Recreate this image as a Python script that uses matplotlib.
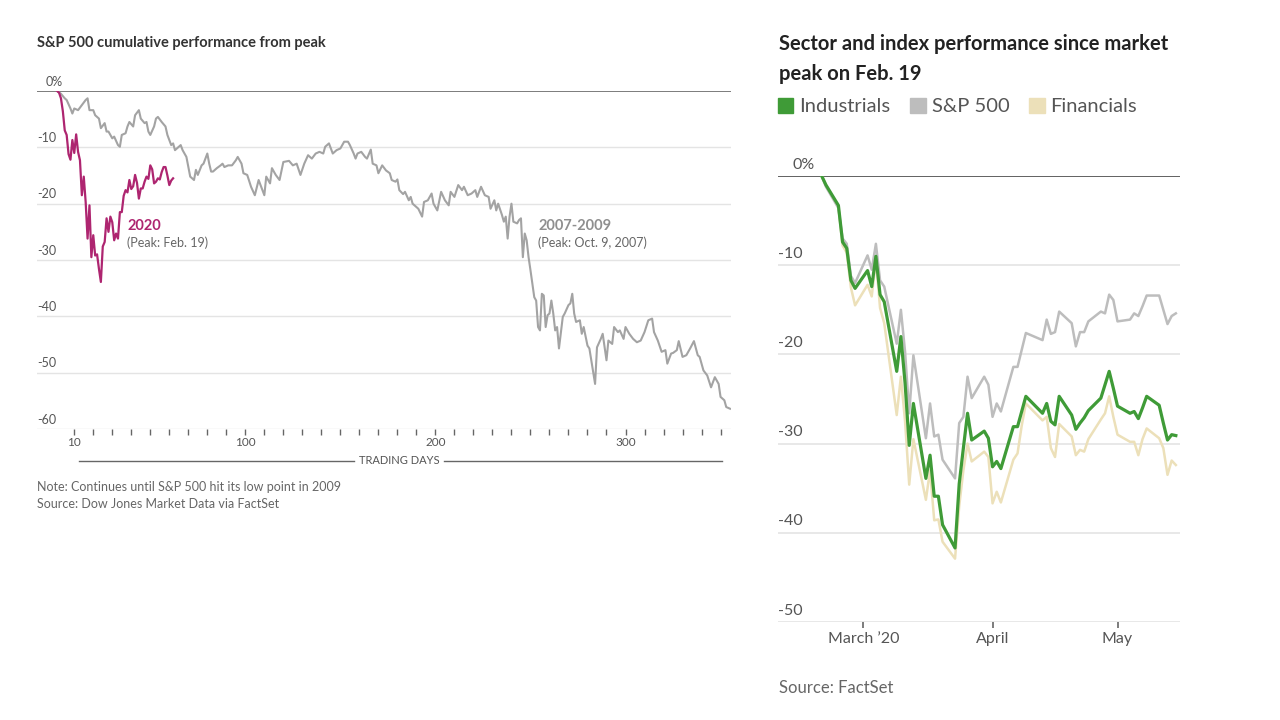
import matplotlib
matplotlib.use("Agg")
import matplotlib.pyplot as plt
import matplotlib.dates as mdates
from matplotlib.patches import Patch
from matplotlib.lines import Line2D
import pandas as pd

plt.rcParams["font.family"] = ["Lato", "DejaVu Sans"]

# ---- left chart: S&P 500 cumulative performance from peak (trading days) ----
sp2020_days = list(range(1, 63))
sp2020_pct = [0, -0.3, -1.3, -3.6, -7.0, -7.8, -11.2, -12.2, -8.7, -11.0,
              -7.7, -10.8, -12.3, -18.5, -15.2, -19.7, -26.2, -20.3, -29.5, -25.6,
              -29.2, -29.0, -31.6, -33.9, -27.6, -26.8, -22.6, -25.0, -22.3, -23.3,
              -26.5, -25.3, -26.2, -21.5, -21.5, -18.6, -17.6, -18.0, -15.8, -17.4,
              -16.9, -14.9, -16.3, -19.1, -17.3, -17.3, -16.1, -15.2, -15.6, -13.2,
              -13.9, -16.4, -16.1, -15.5, -15.7, -14.4, -13.5, -13.5, -15.0, -16.7,
              -15.9, -15.5]

sp2007_days = [1, 3, 5, 6, 8, 9, 10, 12, 14, 16, 17, 18, 20, 21, 23, 24, 26, 27, 28, 30,
               31, 33, 34, 35, 37, 38, 39, 41, 42, 44, 45, 47, 48, 49, 50, 52, 53, 54, 56, 58,
               59, 61, 62, 63, 65, 66, 67, 69, 70, 71, 73, 74, 75, 77, 78, 80, 81, 82, 83, 85,
               87, 88, 89, 91, 93, 95, 96, 98, 99, 101, 103, 105, 107, 108, 110, 111, 113, 114, 116, 118,
               120, 123, 125, 127, 129, 131, 133, 135, 137, 139, 141, 142, 143, 144, 146, 147, 148, 150, 151, 152,
               154, 155, 157, 158, 159, 161, 163, 164, 166, 167, 169, 170, 172, 174, 176, 177, 179, 180, 181, 183,
               184, 186, 187, 188, 190, 191, 193, 194, 196, 198, 199, 201, 203, 205, 207, 208, 210, 212, 214, 215,
               217, 219, 221, 222, 224, 226, 228, 229, 231, 232, 233, 235, 236, 237, 238, 239, 240, 241, 243, 244,
               245, 246, 247, 248, 249, 250, 252, 253, 254, 255, 256, 257, 258, 259, 260, 261, 262, 263, 264, 265,
               267, 268, 270, 271, 272, 273, 274, 276, 277, 278, 280, 281, 284, 285, 287, 288, 290, 291, 293, 294,
               296, 297, 299, 300, 302, 304, 306, 308, 310, 312, 314, 315, 317, 319, 321, 322, 324, 325, 327, 328,
               330, 332, 334, 336, 338, 339, 341, 343, 345, 347, 349, 350, 352, 353, 355]
sp2007_pct = [0, -0.5, -1.3, -1.6, -3.1, -4.0, -3.1, -3.4, -2.5, -1.6, -1.3, -3.4, -3.4, -4.3, -4.9, -6.6, -5.7, -7.2, -7.2, -8.4,
              -8.1, -9.6, -9.9, -7.8, -7.5, -6.3, -5.5, -6.3, -4.3, -3.4, -4.9, -5.7, -5.5, -7.2, -7.8, -6.3, -4.9, -4.6, -5.5, -6.3,
              -7.8, -9.6, -9.3, -10.5, -9.9, -9.6, -10.5, -11.7, -13.5, -15.2, -15.8, -14.0, -14.9, -13.2, -12.9, -11.1, -12.9, -14.3, -14.3, -13.7,
              -13.2, -12.9, -13.5, -13.2, -13.2, -12.3, -11.7, -12.9, -14.6, -14.9, -17.0, -18.5, -15.8, -16.7, -18.5, -15.2, -16.4, -13.7, -14.9, -15.8,
              -12.6, -12.4, -13.2, -12.9, -14.9, -12.9, -11.4, -12.0, -11.1, -10.8, -11.1, -9.9, -9.6, -9.3, -11.1, -10.8, -10.5, -10.2, -9.6, -9.0,
              -9.0, -9.6, -11.1, -12.0, -11.1, -10.8, -11.7, -12.0, -10.4, -12.9, -13.2, -14.6, -13.2, -14.1, -14.6, -15.8, -16.1, -15.7, -17.6, -18.3,
              -17.9, -19.4, -18.8, -20.0, -20.6, -20.9, -22.3, -19.7, -19.4, -18.2, -20.0, -21.2, -17.9, -19.4, -20.3, -17.9, -18.8, -16.7, -17.6, -17.0,
              -18.5, -18.2, -17.6, -18.8, -17.0, -18.5, -18.8, -20.9, -19.4, -21.2, -20.0, -22.0, -23.2, -22.3, -26.2, -22.3, -20.0, -23.2, -23.5, -22.9,
              -22.6, -29.5, -25.3, -26.5, -29.5, -31.8, -36.6, -37.2, -41.9, -42.5, -36.0, -36.3, -41.9, -39.8, -39.5, -37.2, -39.5, -42.5, -41.9, -45.7,
              -40.1, -39.5, -38.0, -37.7, -36.0, -39.5, -41.0, -40.7, -43.1, -41.9, -45.2, -45.7, -52.0, -45.5, -44.0, -43.1, -47.8, -44.3, -44.9, -41.9,
              -42.8, -42.5, -44.0, -41.9, -43.1, -44.0, -44.6, -44.3, -42.8, -40.7, -40.4, -42.8, -44.3, -46.3, -46.0, -48.4, -46.6, -46.5, -46.0, -44.4,
              -47.2, -46.9, -45.7, -44.4, -46.9, -47.2, -49.6, -50.5, -52.6, -50.8, -52.0, -54.3, -54.9, -56.1, -56.4]

left_yticks = [0, -10, -20, -30, -40, -50, -60]
left_xticks = list(range(10, 351, 10))
left_xlabels = {10: "10", 100: "100", 200: "200", 300: "300"}

# ---- right chart: sector and index performance since Feb. 19 ----
dates = ["2020-02-20", "2020-02-21", "2020-02-24", "2020-02-25", "2020-02-26", "2020-02-27", "2020-02-28",
         "2020-03-02", "2020-03-03", "2020-03-04", "2020-03-05", "2020-03-06", "2020-03-09", "2020-03-10",
         "2020-03-11", "2020-03-12", "2020-03-13", "2020-03-16", "2020-03-17", "2020-03-18", "2020-03-19",
         "2020-03-20", "2020-03-23", "2020-03-24", "2020-03-25", "2020-03-26", "2020-03-27", "2020-03-30",
         "2020-03-31", "2020-04-01", "2020-04-02", "2020-04-03", "2020-04-06", "2020-04-07", "2020-04-08",
         "2020-04-09", "2020-04-13", "2020-04-14", "2020-04-15", "2020-04-16", "2020-04-17", "2020-04-20",
         "2020-04-21", "2020-04-22", "2020-04-23", "2020-04-24", "2020-04-27", "2020-04-28", "2020-04-29",
         "2020-04-30", "2020-05-01", "2020-05-04", "2020-05-05", "2020-05-06", "2020-05-07", "2020-05-08",
         "2020-05-11", "2020-05-12", "2020-05-13", "2020-05-14", "2020-05-15"]
industrials = [0, -1.0, -3.3, -7.4, -8.1, -11.7, -12.6, -10.6, -12.4, -9.0, -13.3, -14.1, -21.9, -18.0,
               -23.2, -30.2, -25.5, -33.9, -31.3, -35.9, -35.9, -39.1, -41.7, -34.5, -30.5, -26.6, -29.6,
               -28.6, -29.4, -32.6, -32.0, -32.8, -28.1, -28.1, -26.4, -24.7, -26.6, -25.5, -27.5, -27.9,
               -24.7, -26.8, -28.4, -27.7, -27.1, -26.3, -24.9, -23.4, -21.9, -23.8, -25.8, -26.6, -26.4,
               -27.2, -26.0, -24.7, -25.7, -27.7, -29.6, -29.0, -29.1]
sp500 = [0, -1.2, -3.6, -7.0, -7.6, -11.2, -12.0, -8.9, -10.5, -7.6, -11.7, -12.4, -18.8, -15.0,
         -19.7, -26.6, -20.1, -29.4, -25.5, -29.2, -29.0, -31.8, -33.9, -27.7, -27.0, -22.5, -24.9,
         -22.5, -23.4, -27.0, -25.5, -26.4, -21.4, -21.4, -19.5, -17.6, -18.4, -16.1, -17.7, -17.5,
         -15.2, -16.5, -19.1, -17.5, -17.5, -16.3, -15.2, -15.4, -13.3, -13.9, -16.3, -16.1, -15.4,
         -15.7, -14.6, -13.4, -13.4, -15.0, -16.6, -15.7, -15.4]
financials = [0, -1.0, -3.5, -7.8, -8.6, -12.5, -14.5, -12.2, -13.5, -9.4, -14.8, -16.5, -26.8, -22.5,
              -27.5, -34.6, -29.5, -36.3, -33.0, -38.6, -38.5, -41.0, -42.9, -37.0, -33.0, -30.0, -32.0,
              -30.9, -31.5, -36.7, -35.4, -36.6, -31.8, -31.1, -28.0, -25.5, -27.4, -27.0, -30.5, -31.5,
              -27.8, -29.2, -31.3, -30.7, -30.9, -29.5, -27.3, -26.6, -24.7, -27.0, -29.0, -29.8, -29.8,
              -31.3, -29.5, -28.3, -29.4, -30.5, -33.5, -31.9, -32.4]
right_yticks = [0, -10, -20, -30, -40, -50]
month_ticks = ["2020-03-01", "2020-04-01", "2020-05-01"]
month_labels = ["March \u201920", "April", "May"]

GRID = "#e4e4e4"
TXT = "#555555"
W, H = 1280, 720


def box(x0, y0, x1, y1):
    return [x0 / W, 1 - y1 / H, (x1 - x0) / W, (y1 - y0) / H]


fig = plt.figure(figsize=(12.8, 7.2), dpi=100)

# ================= left chart =================
ax = fig.add_axes(box(37, 91, 731, 429))
ax.set_xlim(-9.6, 355.5)
ax.set_ylim(-60, 0)
for s in ax.spines.values():
    s.set_visible(False)
for v in left_yticks[1:]:
    ax.axhline(v, color=GRID, lw=1, zorder=0)
ax.axhline(0, color="#666666", lw=1.2, zorder=1)
ax.set_yticks([])
ax.set_xticks(left_xticks)
ax.set_xticklabels([left_xlabels.get(t, "") for t in left_xticks])
ax.tick_params(axis="x", length=4, width=1, color="#666666", pad=1.5,
               labelsize=8.5, labelcolor=TXT)
for v in left_yticks:
    lab = "0%" if v == 0 else str(v)
    xo = 0.013 if v == 0 else 0.0
    ax.text(xo, v + 0.6, lab, transform=ax.get_yaxis_transform(),
            ha="left", va="bottom", fontsize=9, color=TXT)

ax.plot(sp2007_days, sp2007_pct, color="#a3a3a3", lw=1.5, zorder=3)
ax.plot(sp2020_days, sp2020_pct, color="#ae2570", lw=1.6, zorder=4)

ax.text(38, -24.7, "2020", fontsize=10.5, fontweight="bold", color="#ae2570")
ax.text(38, -27.7, "(Peak: Feb. 19)", fontsize=9, color="#666666")
ax.text(254, -24.7, "2007-2009", fontsize=10.5, fontweight="bold", color="#8f8f8f")
ax.text(254, -27.7, "(Peak: Oct. 9, 2007)", fontsize=9, color="#666666")

fig.text(37 / W, 1 - 43 / H, "S&P 500 cumulative performance from peak",
         fontsize=10.5, fontweight="bold", color="#333333", va="center")
fig.text(399 / W, 1 - 461 / H, "TRADING DAYS", fontsize=8, color=TXT,
         ha="center", va="center")
fig.add_artist(Line2D([79 / W, 354 / W], [1 - 461 / H] * 2, color="#666666", lw=1))
fig.add_artist(Line2D([444 / W, 722 / W], [1 - 461 / H] * 2, color="#666666", lw=1))
fig.text(37 / W, 1 - 487 / H, "Note: Continues until S&P 500 hit its low point in 2009",
         fontsize=9, color="#666666", va="center")
fig.text(37 / W, 1 - 504 / H, "Source: Dow Jones Market Data via FactSet",
         fontsize=9, color="#666666", va="center")

# ================= right chart =================
d = pd.to_datetime(dates)
ax2 = fig.add_axes(box(778, 176, 1180, 622))
ax2.set_xlim(pd.Timestamp("2020-02-09 12:00"), pd.Timestamp("2020-05-16"))
ax2.set_ylim(-50, 0)
for s in ax2.spines.values():
    s.set_visible(False)
for v in right_yticks[1:]:
    ax2.axhline(v, color=GRID, lw=1.2, zorder=0)
ax2.axhline(0, color="#555555", lw=1.3, zorder=1)
ax2.set_yticks([])
ax2.set_xticks(pd.to_datetime(month_ticks))
ax2.set_xticklabels(month_labels)
ax2.tick_params(axis="x", length=4, width=1.2, color="#666666", pad=3,
                labelsize=11.5, labelcolor=TXT)
for v in right_yticks:
    lab = "0%" if v == 0 else str(v)
    xo = 0.036 if v == 0 else 0.0
    ax2.text(xo, v + 0.5, lab, transform=ax2.get_yaxis_transform(),
             ha="left", va="bottom", fontsize=11.5, color=TXT)

ax2.plot(d, financials, color="#ece0b9", lw=1.8, zorder=2)
ax2.plot(d, sp500, color="#bdbdbd", lw=1.8, zorder=3)
ax2.plot(d, industrials, color="#3f9b37", lw=2.3, zorder=4)

fig.text(779 / W, 1 - 34 / H, "Sector and index performance since market\npeak on Feb. 19",
         fontsize=14.5, fontweight="bold", color="#222222", va="top", linespacing=1.6)
handles = [Patch(color="#3f9b37", label="Industrials"),
           Patch(color="#bdbdbd", label="S&P 500"),
           Patch(color="#ece0b9", label="Financials")]
leg = fig.legend(handles=handles, loc="upper left", bbox_to_anchor=(778 / W, 1 - 98 / H),
                 ncol=3, frameon=False, fontsize=14.5, handlelength=0.75, handleheight=0.75,
                 handletextpad=0.3, columnspacing=1.0, borderaxespad=0, borderpad=0)
for t in leg.get_texts():
    t.set_color(TXT)
fig.text(779 / W, 1 - 688 / H, "Source: FactSet", fontsize=12, color="#666666", va="center")

fig.savefig("out.png", dpi=100)
